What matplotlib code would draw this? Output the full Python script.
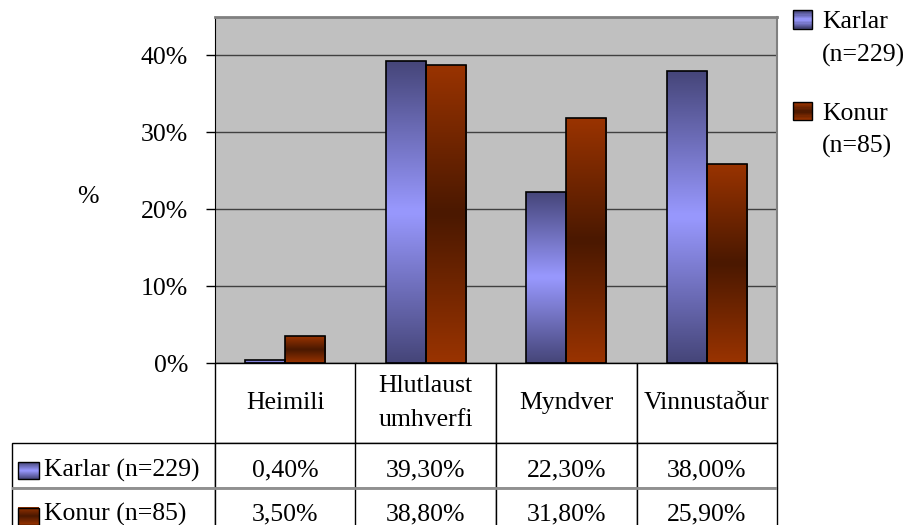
import numpy as np
import matplotlib.pyplot as plt
from matplotlib.table import Table
from matplotlib.legend_handler import HandlerBase
from matplotlib.patches import Rectangle, Patch
from matplotlib.colors import to_rgb
from matplotlib.transforms import Affine2D

plt.rcParams['font.family'] = ['Liberation Serif', 'DejaVu Serif']

# Gögn
categories = ['Heimili', 'Hlutlaust\numhverfi', 'Myndver', 'Vinnustaður']
karlar = [0.40, 39.30, 22.30, 38.00]
konur = [3.50, 38.80, 31.80, 25.90]
row_names = ['Karlar (n=229)', 'Konur (n=85)']
legend_labels = ['Karlar\n(n=229)', 'Konur\n(n=85)']
yticks = [0, 10, 20, 30, 40]

# litir: (kantur, miðja)
karlar_cols = ('#46467A', '#9999FF')
konur_cols = ('#993300', '#4A1800')
FS = 18.5


def grad_colors(edge, mid, n):
    t = np.abs(np.linspace(-1, 1, n))
    e = np.array(to_rgb(edge))
    m = np.array(to_rgb(mid))
    return m + (e - m) * t[:, None]


class GradientHandler(HandlerBase):
    # ferningur með litastigli, hliðrað upp að fyrstu línu textans
    def __init__(self, edge, mid, dy=0):
        super().__init__()
        self.edge = edge
        self.mid = mid
        self.dy = dy

    def create_artists(self, legend, orig_handle, xdescent, ydescent,
                       width, height, fontsize, trans):
        cols = grad_colors(self.edge, self.mid, 14)
        n = len(cols)
        y0 = -ydescent + self.dy
        arts = []
        for k, c in enumerate(cols):
            arts.append(Rectangle((-xdescent, y0 + height * k / n), width, height / n,
                                  facecolor=c, edgecolor='none', transform=trans))
        arts.append(Rectangle((-xdescent, y0), width, height, facecolor='none',
                              edgecolor='black', lw=1, transform=trans))
        return arts


W, H = 913, 525
fig = plt.figure(figsize=(W / 100, H / 100), dpi=100)

# Súlurit
ax = fig.add_axes([215 / W, 1 - 363 / H, 562 / W, 346 / H])
ax.set_facecolor('#C0C0C0')
x = np.arange(len(categories))
w = 0.285
for vals, off, (edge, mid) in [(karlar, -w / 2, karlar_cols), (konur, w / 2, konur_cols)]:
    bars = ax.bar(x + off, vals, w, facecolor='none', edgecolor='black', lw=1.2, zorder=3)
    img = grad_colors(edge, mid, 64)[:, None, :]
    for b in bars:
        im = ax.imshow(img, extent=(b.get_x(), b.get_x() + b.get_width(), 0, b.get_height()),
                       aspect='auto', origin='lower', zorder=2, interpolation='bilinear')
        im.set_clip_path(b)

ax.set_xlim(-0.5, len(categories) - 0.5)
ax.set_ylim(0, 45)
ax.set_yticks(yticks)
ax.set_yticklabels([f'{v}%' for v in yticks])
ax.set_xticks([])
ax.set_axisbelow(True)
ax.yaxis.grid(True, color='#404040', lw=1)
ax.tick_params(axis='y', direction='out', length=6.5, width=1, pad=13, labelsize=FS)
ax.spines['top'].set_color('#808080')
ax.spines['top'].set_linewidth(2)
ax.spines['right'].set_color('#808080')
ax.spines['right'].set_linewidth(1.5)
ax.set_ylabel('%', rotation=0, fontsize=FS, ha='center', va='center')
ax.yaxis.set_label_coords((88 - 215) / 562, (363 - 197) / 346)

# Gagnatafla
tax = fig.add_axes([12 / W, (H - 533) / H, 765 / W, 170 / H])
tax.axis('off')
col_w = [203] + [140.5] * len(categories)
row_h = [80, 45, 45]
tab = Table(tax, bbox=[0, 0, 1, 1])
for j, c in enumerate(categories):
    cell = tab.add_cell(0, j + 1, width=col_w[j + 1], height=row_h[0], text=c, loc='center',
                        facecolor='white', edgecolor='black')
    cell.get_text().set_linespacing(1.75)
for i, (name, vals) in enumerate(zip(row_names, [karlar, konur])):
    shift = Affine2D().translate(0, -5 + i)
    cell = tab.add_cell(i + 1, 0, width=col_w[0], height=row_h[i + 1], text=name, loc='left',
                        facecolor='white', edgecolor='black')
    cell.PAD = 0.158
    cell.get_text().set_transform(shift)
    for j, v in enumerate(vals):
        cell = tab.add_cell(i + 1, j + 1, width=col_w[j + 1], height=row_h[i + 1],
                            text=f'{v:.2f}%'.replace('.', ','), loc='center',
                            facecolor='white', edgecolor='black')
        cell.get_text().set_transform(shift)
tab.auto_set_font_size(False)
tab.set_fontsize(FS)
for cell in tab.get_celld().values():
    cell.set_linewidth(1)
tax.add_table(tab)
tax.axhline(45, color='#909090', lw=2, zorder=5)

# litlir ferningar við raðaheiti
for (edge, mid), yc in [(karlar_cols, 62.5), (konur_cols, 16.5)]:
    img = grad_colors(edge, mid, 32)[:, None, :]
    tax.imshow(img, extent=(6, 27, yc - 8.5, yc + 8.5), aspect='auto', origin='lower', zorder=6)
    tax.add_patch(Rectangle((6, yc - 8.5), 21, 17, facecolor='none', edgecolor='black',
                            lw=1, zorder=7))
tax.set_xlim(0, 765)
tax.set_ylim(0, 170)

# Skýringar
h1, h2 = Patch(), Patch()
leg = fig.legend(handles=[h1, h2], labels=legend_labels,
                 handler_map={h1: GradientHandler(*karlar_cols, dy=13.5),
                              h2: GradientHandler(*konur_cols, dy=13.5)},
                 loc='upper left', bbox_to_anchor=(793 / W, 1 - 11 / H), frameon=False,
                 fontsize=FS, handlelength=0.74, handleheight=0.72, handletextpad=0.4,
                 labelspacing=1.4, borderaxespad=0, borderpad=0)
for t in leg.get_texts():
    t.set_linespacing(1.6)

fig.savefig('out.png', dpi=100)
